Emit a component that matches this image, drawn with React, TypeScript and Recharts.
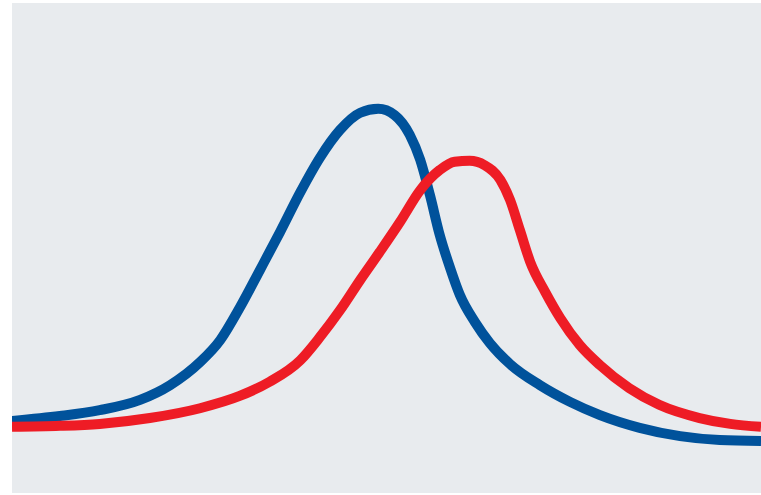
import React from 'react';
import { LineChart, Line, XAxis, YAxis } from 'recharts';

const blueX = [0, 6.4, 11.7, 17.1, 21.1, 25.1, 27.8, 30.4, 33.1, 35.8, 38.5, 41.1, 43.8, 46.5, 48.9, 51.1, 53.1, 54.5, 55.8, 57.1, 58.5, 59.8, 61.8, 63.8, 66.5, 70.5, 74.5, 78.5, 83.8, 89.2, 94.5, 100];
const blueY = [14.7, 15.7, 16.9, 19.0, 22.0, 26.7, 31.2, 37.8, 45.5, 53.3, 61.4, 68.4, 74.1, 77.6, 78.4, 77.1, 73.1, 68.0, 60.8, 52.7, 45.9, 40.4, 34.9, 30.6, 26.3, 22.0, 18.6, 15.9, 13.3, 11.6, 10.8, 10.6];

const redX = [0, 6.4, 11.7, 18.4, 25.1, 30.4, 34.4, 38.5, 41.1, 43.8, 46.5, 49.1, 51.8, 54.5, 57.1, 59.1, 61.1, 63.1, 65.2, 66.5, 67.8, 69.2, 71.2, 73.2, 75.8, 78.5, 82.4, 86.4, 91.8, 95.9, 100];
const redY = [13.5, 13.7, 14.1, 15.3, 17.3, 19.8, 22.7, 27.1, 31.8, 37.3, 43.5, 49.2, 55.3, 61.8, 65.9, 67.6, 67.8, 66.9, 63.9, 59.8, 53.7, 47.1, 41.0, 35.7, 30.2, 26.1, 21.4, 18.0, 15.3, 14.1, 13.5];

const blueData = blueX.map((x, i) => ({ x, y: blueY[i] }));
const redData = redX.map((x, i) => ({ x, y: redY[i] }));

export default function App() {
  return (
    <div style={{ position: 'absolute', left: 12, top: 3, width: 749, height: 490, background: '#e8ebee' }}>
      <LineChart width={749} height={490} margin={{ top: 0, right: 0, bottom: 0, left: 0 }}>
        <XAxis type="number" dataKey="x" domain={[0, 100]} hide />
        <YAxis type="number" dataKey="y" domain={[0, 100]} hide />
        <Line data={blueData} dataKey="y" type="monotone" stroke="#00529b" strokeWidth={10} dot={false} isAnimationActive={false} />
        <Line data={redData} dataKey="y" type="monotone" stroke="#ee1c25" strokeWidth={10} dot={false} isAnimationActive={false} />
      </LineChart>
    </div>
  );
}
